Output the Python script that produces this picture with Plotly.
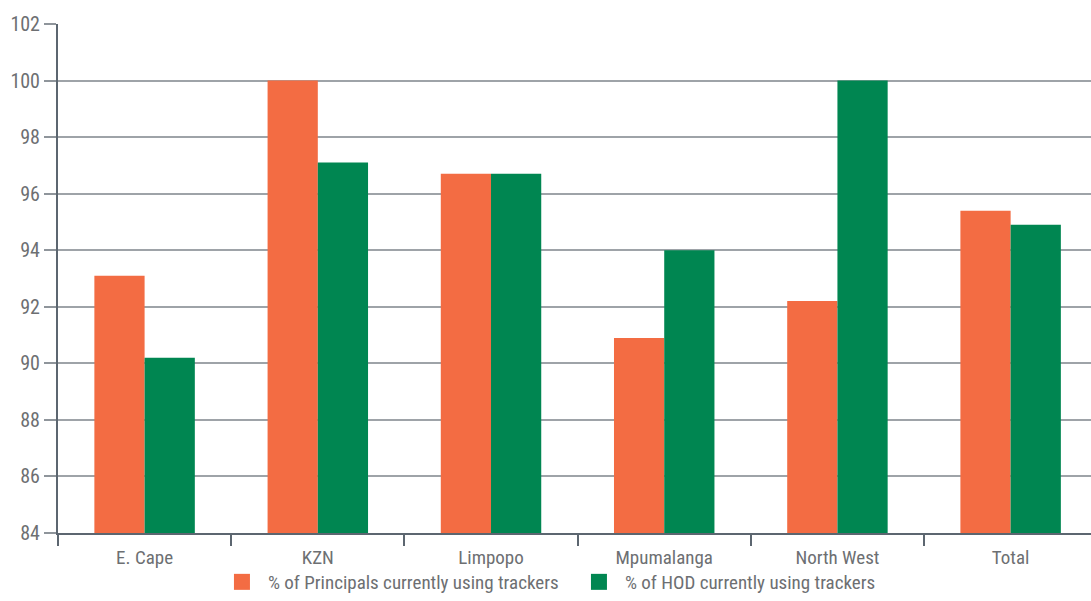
import plotly.graph_objects as go

provinces = ["E. Cape", "KZN", "Limpopo", "Mpumalanga", "North West", "Total"]
principals_pct = [93.1, 100.0, 96.7, 90.9, 92.2, 95.4]
hod_pct = [90.2, 97.1, 96.7, 94.0, 100.0, 94.9]
y_ticks = [84, 86, 88, 90, 92, 94, 96, 98, 100, 102]
series_names = ["% of Principals currently using trackers", "% of HOD currently using trackers"]

ORANGE = "#F36C43"
GREEN = "#008651"
TEXT = "#6d6f72"
FONT = "Roboto Condensed, Roboto, sans-serif"

fig = go.Figure()
for name, vals, col in [(series_names[0], principals_pct, ORANGE), (series_names[1], hod_pct, GREEN)]:
    fig.add_trace(go.Bar(x=provinces, y=vals, name=name, showlegend=False,
                         marker=dict(color=col, line=dict(width=0))))
    # legend entry with a larger square swatch
    fig.add_trace(go.Scatter(x=[None], y=[None], mode="markers", name=name,
                             marker=dict(symbol="square", size=16, color=col)))

fig.update_layout(
    width=1091, height=601,
    margin=dict(l=58, r=0, t=24, b=68),
    plot_bgcolor="white", paper_bgcolor="white",
    barmode="group", bargap=0.42, bargroupgap=0,
    font=dict(family=FONT, size=19, color=TEXT),
    legend=dict(orientation="h", x=0.4985, xanchor="center", y=-0.1336, yanchor="bottom",
                bgcolor="rgba(0,0,0,0)",
                font=dict(family=FONT, size=19, color=TEXT), traceorder="normal",
                itemsizing="trace", itemwidth=42, entrywidth=300),
    xaxis=dict(range=[-0.5, 5.464], showline=True, linecolor="#5c6670", linewidth=2,
               ticks="outside", tickson="boundaries", ticklen=11, tickcolor="#5c6670",
               tickwidth=1.5, showgrid=False, ticklabelstandoff=6,
               tickfont=dict(family=FONT, size=19, color=TEXT)),
    yaxis=dict(range=[84, 102], tickvals=y_ticks, showline=True, linecolor="#5c6670",
               linewidth=2, ticks="outside", ticklen=12, tickcolor="#8f959b", tickwidth=2,
               showgrid=True, gridcolor="#9ea3a8", gridwidth=1.5, zeroline=False,
               tickfont=dict(family=FONT, size=20, color=TEXT)),
)

fig.write_html("out.html")
